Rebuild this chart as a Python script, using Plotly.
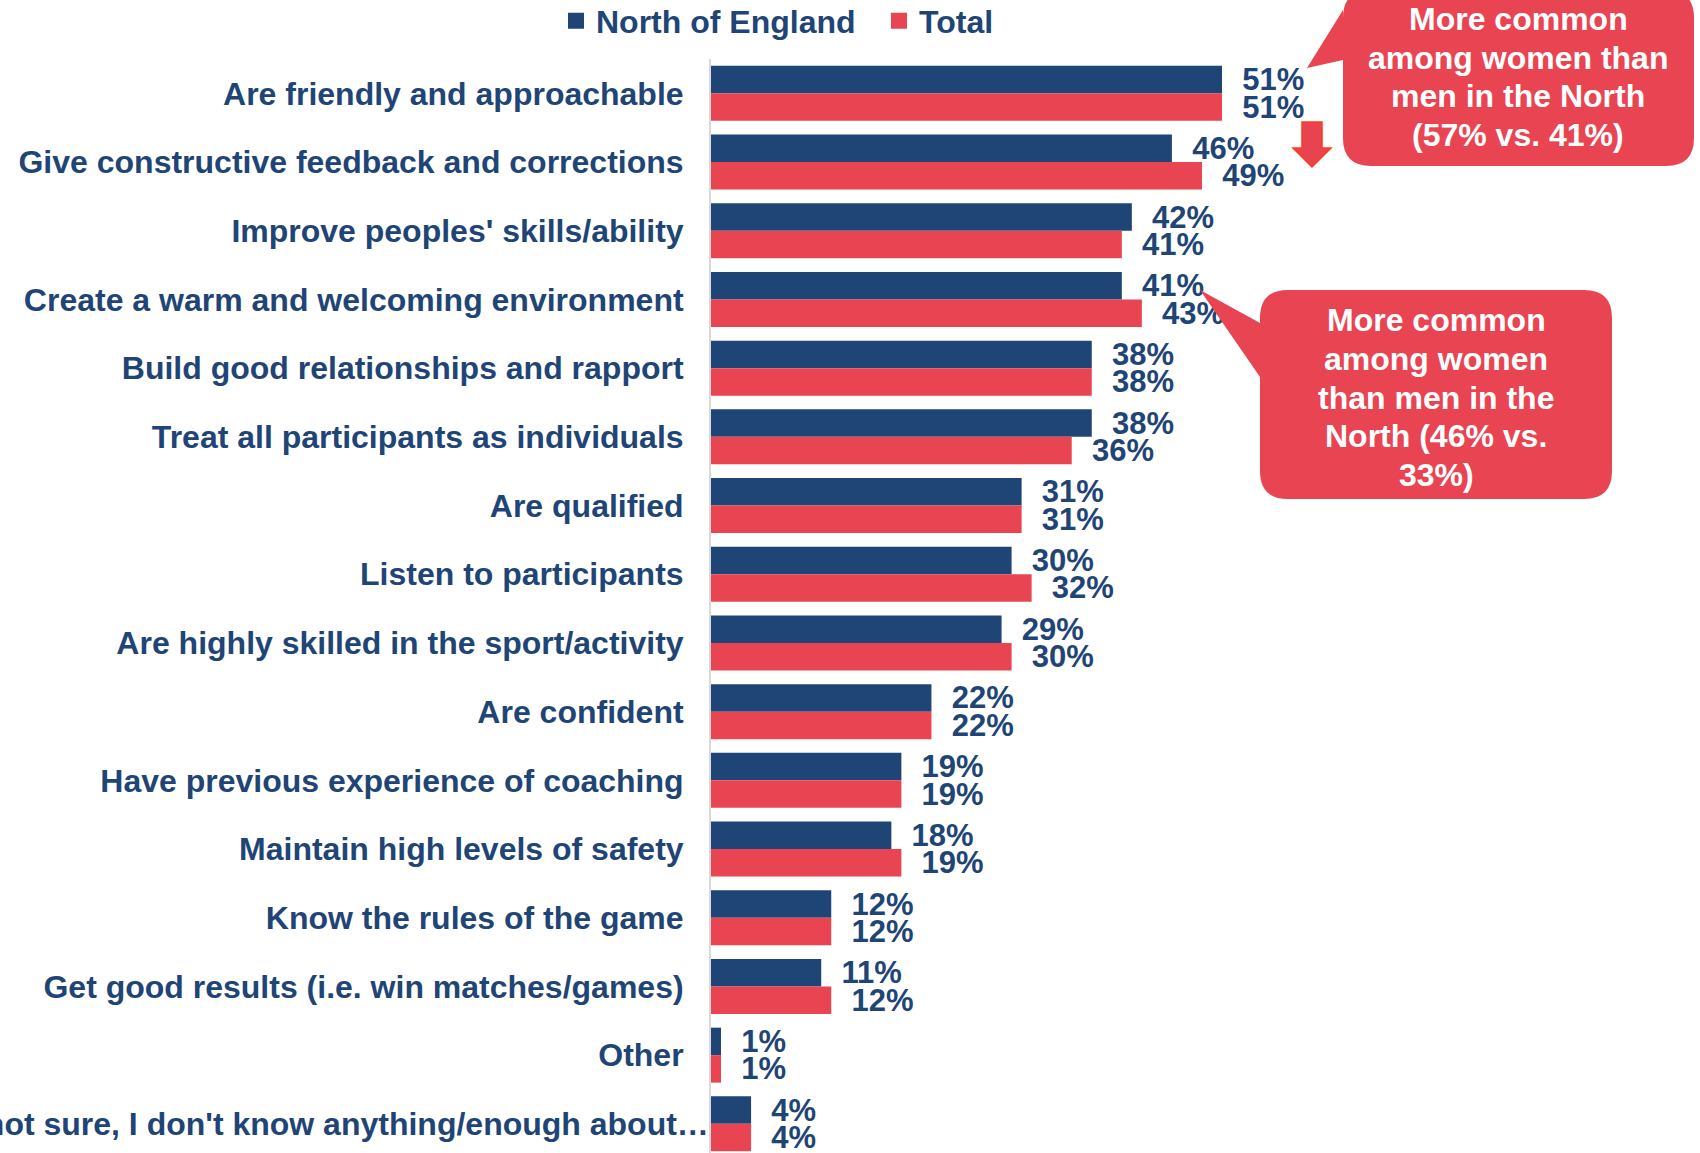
import plotly.graph_objects as go

# ---- data -------------------------------------------------------------
categories = [
    "Are friendly and approachable",
    "Give constructive feedback and corrections",
    "Improve peoples' skills/ability",
    "Create a warm and welcoming environment",
    "Build good relationships and rapport",
    "Treat all participants as individuals",
    "Are qualified",
    "Listen to participants",
    "Are highly skilled in the sport/activity",
    "Are confident",
    "Have previous experience of coaching",
    "Maintain high levels of safety",
    "Know the rules of the game",
    "Get good results (i.e. win matches/games)",
    "Other",
    "I'm not sure, I don't know anything/enough about\u2026",
]
north_values = [51, 46, 42, 41, 38, 38, 31, 30, 29, 22, 19, 18, 12, 11, 1, 4]
total_values = [51, 49, 41, 43, 38, 36, 31, 32, 30, 22, 19, 19, 12, 12, 1, 4]
series_names = ["North of England", "Total"]

callout_top_lines = ["More common", "among women than", "men in the North", "(57% vs. 41%)"]
callout_mid_lines = ["More common", "among women", "than men in the", "North (46% vs.", "33%)"]

# ---- styling ----------------------------------------------------------
NAVY = "#1F4577"
RED = "#E84452"
FONT = "Liberation Sans, Arial, sans-serif"

W, H = 1700, 1153
ML, MR, MT, MB = 711, 0, 59, 0
PLOT_W = W - ML - MR
PLOT_H = H - MT - MB
PX_PER_PCT = 10.02
ROW_PITCH = 68.7


def px(x, y):
    """Convert page pixel position to paper coordinates."""
    return (x - ML) / PLOT_W, 1 - (y - MT) / PLOT_H


def path_from(segs):
    parts = []
    for cmd, pts in segs:
        parts.append(cmd + " ".join("%.5f,%.5f" % px(*p) for p in pts))
    return " ".join(parts) + " Z"


def rounded_rect(x0, y0, x1, y1, r, notch=None):
    # notch: (tip, base_top_y, base_bottom_y) on the left edge
    segs = [("M", [(x0 + r, y0)]),
            ("L", [(x1 - r, y0)]),
            ("Q", [(x1, y0), (x1, y0 + r)]),
            ("L", [(x1, y1 - r)]),
            ("Q", [(x1, y1), (x1 - r, y1)]),
            ("L", [(x0 + r, y1)]),
            ("Q", [(x0, y1), (x0, y1 - r)])]
    if notch:
        tip, by0, by1 = notch
        segs += [("L", [(x0, by1)]), ("L", [tip]), ("L", [(x0, by0)])]
    segs += [("L", [(x0, y0 + r)]),
             ("Q", [(x0, y0), (x0 + r, y0)])]
    return path_from(segs)


fig = go.Figure()
for name, vals, color in [(series_names[0], north_values, NAVY),
                          (series_names[1], total_values, RED)]:
    fig.add_trace(go.Bar(
        name=name,
        y=categories,
        x=vals,
        orientation="h",
        marker=dict(color=color, line=dict(width=0)),
        texttemplate="\u00a0\u00a0%{x}%",
        textposition="outside",
        constraintext="none",
        cliponaxis=False,
        textfont=dict(family=FONT, size=31, color=NAVY, weight="bold"),
        hoverinfo="skip",
        showlegend=False,
        legendgroup=name,
    ))
    # legend entry with a larger square swatch
    fig.add_trace(go.Scatter(
        name=name,
        x=[None], y=[None],
        mode="markers",
        marker=dict(symbol="square", size=17, color=color),
        legendgroup=name,
        hoverinfo="skip",
    ))

shapes = [
    # callout near the top bars
    dict(type="path", xref="paper", yref="paper",
         path=rounded_rect(1343, -10, 1694, 166, 28, notch=((1307, 68), 10, 60)),
         fillcolor=RED, line=dict(width=0), layer="above"),
    # callout near "Create a warm and welcoming environment"
    dict(type="path", xref="paper", yref="paper",
         path=rounded_rect(1260, 290, 1612, 499, 28, notch=((1200, 290), 323, 377)),
         fillcolor=RED, line=dict(width=0), layer="above"),
    # down arrow beside the feedback bars
    dict(type="path", xref="paper", yref="paper",
         path=path_from([("M", [(1302, 122)]), ("L", [(1322, 122)]), ("L", [(1322, 148)]),
                         ("L", [(1331, 148)]), ("L", [(1312, 167)]), ("L", [(1293, 148)]),
                         ("L", [(1302, 148)])]),
         fillcolor="#E8434F", line=dict(color="#FF3B1F", width=1.5), layer="above"),
]

annotations = []
for lines, cx, ys in [(callout_top_lines, 1518, [19, 58, 96, 135]),
                      (callout_mid_lines, 1436, [320, 359, 398, 436, 475])]:
    for line, cy in zip(lines, ys):
        ax, ay = px(cx, cy)
        annotations.append(dict(
            text=line, xref="paper", yref="paper", x=ax, y=ay,
            xanchor="center", yanchor="middle", showarrow=False,
            font=dict(family=FONT, size=32, color="white", weight="bold"),
        ))

# the long final category label runs right up to the axis line
annotations.append(dict(
    text=categories[-1], xref="paper", yref="y", x=0, y=categories[-1],
    xanchor="right", yanchor="middle", showarrow=False,
    font=dict(family=FONT, size=32, color=NAVY, weight="bold"),
))
tick_text = categories[:-1] + [""]

fig.update_layout(
    width=W, height=H,
    margin=dict(l=ML, r=MR, t=MT, b=MB, pad=0),
    template="none",
    paper_bgcolor="white",
    plot_bgcolor="white",
    barmode="group",
    bargap=0.2,
    bargroupgap=0,
    showlegend=True,
    legend=dict(
        orientation="h",
        xref="container", yref="container",
        x=556 / W, xanchor="left",
        y=1 - 21 / H, yanchor="middle",
        entrywidth=278, entrywidthmode="pixels",
        font=dict(family=FONT, size=32, color=NAVY, weight="bold"),
        bgcolor="rgba(0,0,0,0)",
        itemclick=False, itemdoubleclick=False,
    ),
    xaxis=dict(
        range=[0, PLOT_W / PX_PER_PCT],
        visible=False,
        showgrid=False, zeroline=False,
    ),
    yaxis=dict(
        type="category",
        categoryorder="array",
        categoryarray=categories,
        tickmode="array",
        tickvals=categories,
        ticktext=tick_text,
        range=[-0.5 + PLOT_H / ROW_PITCH, -0.5],
        showgrid=False, zeroline=False,
        showline=True, linecolor="#D9D9D9", linewidth=2,
        ticks="", ticklabelstandoff=19,
        automargin=False,
        tickfont=dict(family=FONT, size=32, color=NAVY, weight="bold"),
    ),
    shapes=shapes,
    annotations=annotations,
    font=dict(family=FONT),
)

fig.write_html("out.html")
